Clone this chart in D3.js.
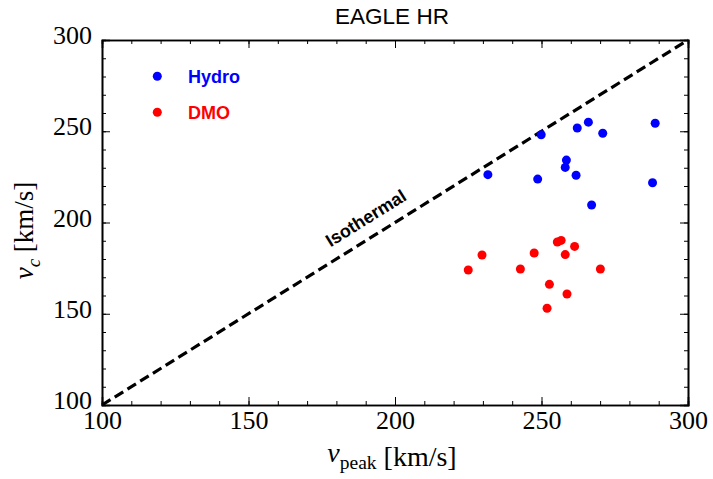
<!DOCTYPE html>
<html>
<head>
<meta charset="utf-8">
<script src="https://cdn.jsdelivr.net/npm/d3@7"></script>
<style>
  body { margin: 0; background: #fff; }
  .tick text { font-family: "Liberation Serif", "Times New Roman", serif; }
</style>
</head>
<body>
<div id="chart"></div>
<script>
var svgWidth = 713;
var svgHeight = 479;

var margin = { top: 40, right: 25, bottom: 74, left: 102 };
var width = svgWidth - margin.left - margin.right;
var height = svgHeight - margin.top - margin.bottom;

// data
var hydroVpeak = [231.7, 249.9, 248.7, 262.2, 266.0, 270.9, 288.8, 258.5, 258.1, 261.8, 287.9, 267.1];
var hydroVc    = [226.2, 248.1, 223.8, 251.8, 255.0, 248.9, 254.4, 234.2, 230.2, 225.9, 221.8, 209.6];
var dmoVpeak = [225.0, 229.7, 242.8, 247.5, 255.4, 256.7, 261.3, 258.1, 270.1, 252.7, 258.7, 251.9];
var dmoVc    = [174.0, 182.2, 174.5, 183.3, 189.3, 190.2, 186.9, 182.4, 174.5, 166.1, 160.8, 153.0];
var majorTicks = [100, 150, 200, 250, 300];
var isothermal = [[100, 100], [300, 300]];

var svg = d3.select("#chart")
  .append("svg")
  .attr("width", svgWidth)
  .attr("height", svgHeight);

var chartGroup = svg.append("g")
  .attr("transform", `translate(${margin.left}, ${margin.top})`);

var xScale = d3.scaleLinear().domain([100, 300]).range([0, width]);
var yScale = d3.scaleLinear().domain([100, 300]).range([height, 0]);

var minorTicks = d3.range(100, 301, 10);

// axes: minor ticks (no labels) then major ticks with labels, all pointing in
function drawAxis(axisFn, scale, transform, labels, pad) {
  var gMinor = chartGroup.append("g").attr("transform", transform)
    .call(axisFn(scale).tickValues(minorTicks).tickSize(-4).tickFormat(""));
  var gMajor = chartGroup.append("g").attr("transform", transform)
    .call(axisFn(scale).tickValues(majorTicks).tickSize(-8).tickPadding(pad || 0)
      .tickFormat(labels ? d3.format("d") : ""));
  [gMinor, gMajor].forEach(function(g) {
    g.selectAll("path").attr("stroke", "#000").attr("stroke-width", 1.6);
    g.selectAll("line").attr("stroke", "#000").attr("stroke-width", 1);
  });
  gMajor.selectAll("text").attr("font-size", 26).attr("fill", "#000");
  return gMajor;
}

drawAxis(d3.axisBottom, xScale, `translate(0, ${height})`, true, 6);
drawAxis(d3.axisTop, xScale, "translate(0, 0)", false);
var yAxis = drawAxis(d3.axisLeft, yScale, "translate(0, 0)", true, 10);
yAxis.selectAll("text").attr("dy", 3.5);
drawAxis(d3.axisRight, yScale, `translate(${width}, 0)`, false);

// isothermal line
var line = d3.line().x(d => xScale(d[0])).y(d => yScale(d[1]));
chartGroup.append("path")
  .datum(isothermal)
  .attr("d", line)
  .attr("fill", "none")
  .attr("stroke", "#000")
  .attr("stroke-width", 3.2)
  .attr("stroke-dasharray", "10,5");

var angle = Math.atan2(yScale(300) - yScale(100), xScale(300) - xScale(100)) * 180 / Math.PI;
chartGroup.append("text")
  .attr("transform", `translate(${xScale(193.5)}, ${yScale(193.5)}) rotate(${angle})`)
  .attr("y", -13)
  .attr("text-anchor", "middle")
  .attr("font-family", "Liberation Sans, Arial, sans-serif")
  .attr("font-weight", "bold")
  .attr("font-size", 18)
  .text("Isothermal");

// points
chartGroup.selectAll(".hydro")
  .data(hydroVpeak)
  .enter()
  .append("circle")
  .attr("class", "hydro")
  .attr("cx", d => xScale(d))
  .attr("cy", (d, i) => yScale(hydroVc[i]))
  .attr("r", 4.5)
  .attr("fill", "#0000ff");

chartGroup.selectAll(".dmo")
  .data(dmoVpeak)
  .enter()
  .append("circle")
  .attr("class", "dmo")
  .attr("cx", d => xScale(d))
  .attr("cy", (d, i) => yScale(dmoVc[i]))
  .attr("r", 4.5)
  .attr("fill", "#ff0000");

// legend
var legend = [["Hydro", "#0000ff"], ["DMO", "#ff0000"]];
legend.forEach(function(l, i) {
  var ly = 36.3 + i * 36;
  chartGroup.append("circle")
    .attr("cx", 55.3).attr("cy", ly).attr("r", 4.5).attr("fill", l[1]);
  chartGroup.append("text")
    .attr("x", 86).attr("y", ly)
    .attr("dy", "0.36em")
    .attr("font-family", "Liberation Sans, Arial, sans-serif")
    .attr("font-weight", "bold")
    .attr("font-size", 18)
    .attr("fill", l[1])
    .text(l[0]);
});

// title
svg.append("text")
  .attr("x", 392)
  .attr("y", 23.5)
  .attr("text-anchor", "middle")
  .attr("font-family", "Liberation Sans, Arial, sans-serif")
  .attr("font-size", 22.5)
  .text("EAGLE HR");

// axis labels
var xLabel = svg.append("text")
  .attr("x", 392)
  .attr("y", 466)
  .attr("text-anchor", "middle")
  .attr("font-family", "Liberation Serif, Times New Roman, serif")
  .attr("font-size", 28);
xLabel.append("tspan").attr("font-style", "italic").attr("dy", -4).text("v");
xLabel.append("tspan").attr("font-size", 19.5).attr("dy", 7).text("peak");
xLabel.append("tspan").attr("dy", -3).text(" [km/s]");

var yLabel = svg.append("text")
  .attr("transform", "translate(33, 230.5) rotate(-90)")
  .attr("text-anchor", "middle")
  .attr("font-family", "Liberation Serif, Times New Roman, serif")
  .attr("font-size", 27);
yLabel.append("tspan").attr("font-style", "italic").text("v");
yLabel.append("tspan").attr("font-style", "italic").attr("font-size", 19).attr("dy", 7).text("c");
yLabel.append("tspan").attr("dy", -7).text(" [km/s]");
</script>
</body>
</html>
